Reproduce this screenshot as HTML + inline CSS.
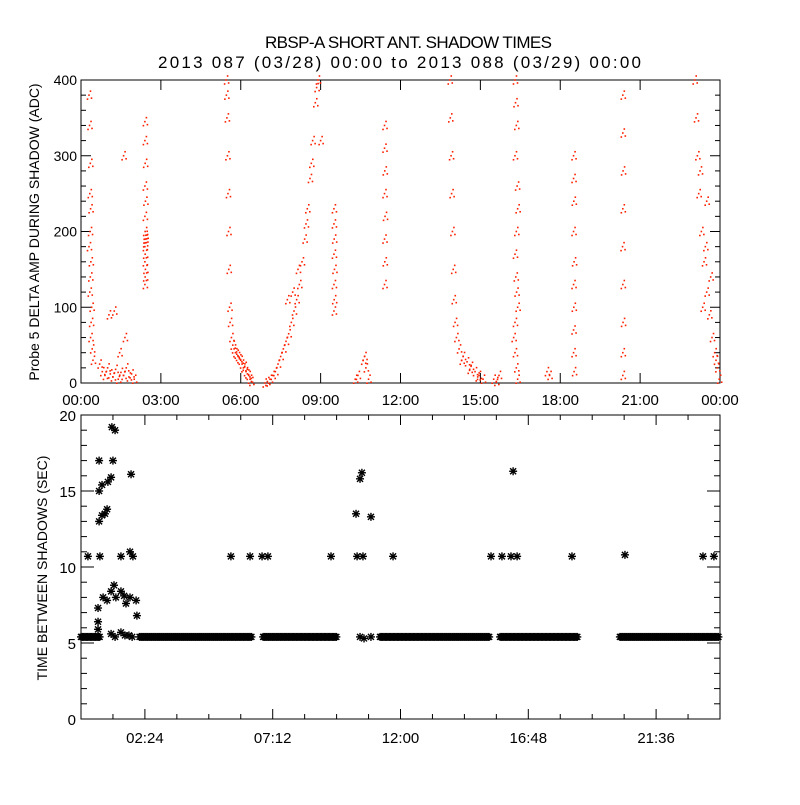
<!DOCTYPE html>
<html><head><meta charset="utf-8"><style>
body{margin:0;background:#fff;}
svg text{font-family:"Liberation Sans",sans-serif;fill:#000;}
</style></head><body>
<svg id="c" width="800" height="800" xmlns="http://www.w3.org/2000/svg">
<rect width="800" height="800" fill="#fff"/>
<text x="265" y="48" font-size="17" textLength="287" lengthAdjust="spacing">RBSP-A SHORT ANT. SHADOW TIMES</text>
<text x="158" y="68" font-size="17" textLength="483" lengthAdjust="spacing">2013 087 (03/28) 00:00 to 2013 088 (03/29) 00:00</text>
<g id="topPanel"></g>
<g id="botPanel"></g>
<text transform="translate(39,232) rotate(-90)" font-size="14" text-anchor="middle">Probe 5 DELTA AMP DURING SHADOW (ADC)</text>
<text transform="translate(47,568) rotate(-90)" font-size="14" text-anchor="middle">TIME BETWEEN SHADOWS (SEC)</text>
</svg>
<script>
// ---- data ----
const topTickLabels = ["00:00","03:00","06:00","09:00","12:00","15:00","18:00","21:00","00:00"];
const topYTicks = [0,100,200,300,400];
const botTickLabels = ["02:24","07:12","12:00","16:48","21:36"];
const botTickHours = [2.4,7.2,12.0,16.8,21.6];
const botYTicks = [0,5,10,15,20];
// red scatter: hours, values
const ampHours = [0.3,0.32,0.35,0.33,0.36,0.34,0.3,0.37,0.35,0.33,0.4,0.38,0.36,0.42,0.45,
0.8,0.9,1.0,1.1,1.2,1.3,1.4,1.5,1.6,1.7,1.8,1.9,2.0,1.05,1.25,1.45,1.65,0.7,1.6,
2.4,2.4,2.41,2.4,2.42,2.4,2.41,2.43,2.42,2.41,2.4,2.41,2.4,2.42,2.41,2.4,
5.45,5.46,5.48,5.5,5.52,5.54,5.55,5.58,5.6,5.65,5.7,5.8,5.9,6.0,6.05,6.1,6.2,6.3,6.35,6.4,5.75,5.85,5.95,6.15,6.25,
6.9,7.0,7.1,7.2,7.3,7.4,7.5,7.6,7.7,7.8,7.9,8.0,8.1,8.2,8.3,8.4,8.5,8.6,8.7,8.8,8.9,7.75,7.95,8.15,8.45,8.65,8.85,9.0,
9.5,9.5,9.51,9.5,9.52,9.5,9.51,9.5,
10.3,10.4,10.6,10.7,10.8,10.65,
11.4,11.4,11.41,11.4,11.42,11.4,11.41,11.4,
13.85,13.87,13.9,13.92,13.95,13.98,14.0,14.05,14.1,14.2,14.35,14.5,14.65,14.8,14.95,15.1,14.3,14.6,14.9,15.5,15.6,15.7,
16.3,16.32,16.35,16.3,16.38,16.4,16.35,16.3,16.33,16.36,16.4,16.3,16.25,16.3,16.35,16.4,
17.5,17.6,
18.5,18.5,18.51,18.5,18.52,18.5,18.51,18.5,18.5,18.52,
20.35,20.35,20.36,20.35,20.34,20.35,20.36,20.35,20.35,
23.05,23.1,23.15,23.2,23.3,23.4,23.5,23.6,23.7,23.8,23.9,23.97,23.25,23.45,23.65,23.85,23.5,23.35];
const ampValues = [380,340,290,250,230,200,180,160,140,120,100,80,60,45,30,
15,10,20,12,8,18,5,14,10,20,8,12,5,90,95,40,60,25,300,
345,320,290,260,240,220,200,195,190,185,180,170,160,150,140,130,
400,380,350,300,250,200,150,100,80,60,50,40,35,30,25,20,15,10,5,2,45,38,32,22,12,
0,2,5,10,15,25,35,45,55,65,80,95,110,130,160,190,230,270,320,370,400,110,120,150,210,290,390,320,
230,210,190,170,150,130,110,95,
5,10,30,20,5,35,
340,310,280,250,220,190,160,130,
400,350,300,250,200,150,110,80,60,45,35,28,22,15,10,5,30,18,8,5,2,10,
400,370,340,300,260,230,200,170,140,120,100,80,60,40,20,5,
15,10,
300,270,240,200,160,130,100,70,40,15,
380,330,280,230,180,130,80,40,10,
400,350,300,250,200,160,120,90,60,40,20,5,280,180,140,30,240,100];
// asterisks: outliers
const gapHours = [0.26,0.71,0.68,0.68,0.68,0.79,0.9,0.98,0.79,1.01,1.13,1.16,1.28,1.2,1.88,0.64,0.64,0.64,0.83,0.98,1.13,1.24,1.31,1.5,1.62,1.69,1.84,2.07,2.1,1.13,1.28,1.5,1.65,1.8,1.92,1.5,1.84,1.95,5.63,6.35,6.8,7.02,9.39,10.33,10.37,10.48,10.55,10.59,10.48,10.63,10.89,10.89,11.72,15.4,15.81,16.15,16.23,16.38,18.44,20.43,23.36,23.77];
const gapValues = [10.7,10.7,17,15,13,13.4,13.5,13.8,15.4,15.6,15.9,19.2,19,17,16.1,7.3,6.4,5.9,8,7.8,8.4,8.8,8,8.4,8.1,7.6,8,7.8,6.8,5.6,5.4,5.7,5.5,5.5,5.4,10.7,11,10.7,10.7,10.7,10.7,10.7,10.7,13.5,10.7,15.8,16.2,10.7,5.4,5.3,13.3,5.4,10.7,10.7,10.7,10.7,16.3,10.7,10.7,10.8,10.7,10.7];
// baseline runs at ~5.4 s
const runStart = [0.0,2.2,6.84,11.23,15.74,20.24];
const runEnd = [0.7,6.42,9.62,15.36,18.67,23.95];
const runValue = [5.4,5.4,5.4,5.4,5.4,5.4];

const NS="http://www.w3.org/2000/svg";
const X0=81,X1=720;
const xs=h=>X0+(X1-X0)*h/24;
const T0=80,T1=383, ys1=v=>T1-(T1-T0)*v/400;
const B0=415,B1=719, ys2=v=>B1-(B1-B0)*v/20;
function el(tag,attrs,parent){const e=document.createElementNS(NS,tag);for(const k in attrs)e.setAttribute(k,attrs[k]);parent.appendChild(e);return e;}
const topG=document.getElementById('topPanel'), botG=document.getElementById('botPanel');

let f=el('rect',{x:X0,y:T0,width:X1-X0,height:T1-T0,fill:'none',stroke:'#000','stroke-width':1},topG);


for(let i=0;i<=20;i++){const y=ys1(i*20);const L=(i%5==0)?10:5;
 el('line',{x1:X0,x2:X0+L,y1:y,y2:y,stroke:'#000'},topG);el('line',{x1:X1,x2:X1-L,y1:y,y2:y,stroke:'#000'},topG);}
topYTicks.forEach(v=>{const t=el('text',{x:X0-4,y:ys1(v)+5,'font-size':14,'text-anchor':'end'},topG);t.textContent=v;
 
 });
topTickLabels.forEach((s,i)=>{const x=xs(i*3);
 el('line',{x1:x,x2:x,y1:T1,y2:T1-10,stroke:'#000'},topG);el('line',{x1:x,x2:x,y1:T0,y2:T0+10,stroke:'#000'},topG);
 const t=el('text',{x:x,y:405,'font-size':15,'text-anchor':'middle'},topG);t.textContent=s;
 
 });
const offs=[[0,0],[1.5,-4],[-1.5,4],[2.5,3]];
ampHours.forEach((h,i)=>{offs.forEach(o=>{const r=el('rect',{x:xs(h)+o[0]-0.8,y:ys1(ampValues[i])+o[1]-0.8,width:1.6,height:1.6,fill:'#ff2000'},topG);
 
 });});

f=el('rect',{x:X0,y:B0,width:X1-X0,height:B1-B0,fill:'none',stroke:'#000'},botG);


for(let i=0;i<=20;i++){const y=ys2(i);const L=(i%5==0)?13:6;
 el('line',{x1:X0,x2:X0+L,y1:y,y2:y,stroke:'#000'},botG);el('line',{x1:X1,x2:X1-L,y1:y,y2:y,stroke:'#000'},botG);}
botYTicks.forEach(v=>{const t=el('text',{x:X0-5,y:ys2(v)+6,'font-size':15,'text-anchor':'end'},botG);t.textContent=v;
 
 });
for(let i=1;i<20;i++){const x=xs(i*1.2);const L=(i%4==2)?10:5;
 el('line',{x1:x,x2:x,y1:B1,y2:B1-L,stroke:'#000'},botG);el('line',{x1:x,x2:x,y1:B0,y2:B0+L,stroke:'#000'},botG);}
botTickLabels.forEach((s,i)=>{const t=el('text',{x:xs(botTickHours[i]),y:743,'font-size':15,'text-anchor':'middle'},botG);t.textContent=s;
 
 });
function star(x,y){const g=el('g',{stroke:'#000','stroke-width':1.4},botG);
 
 
 el('line',{x1:x-4,x2:x+4,y1:y,y2:y},g);el('line',{x1:x,x2:x,y1:y-4,y2:y+4},g);
 el('line',{x1:x-3,x2:x+3,y1:y-3,y2:y+3},g);el('line',{x1:x-3,x2:x+3,y1:y+3,y2:y-3},g);}
runStart.forEach((s,i)=>{for(let h=s;h<=runEnd[i]+1e-9;h+=0.05)star(xs(h),ys2(runValue[i]));});
gapHours.forEach((h,i)=>star(xs(h),ys2(gapValues[i])));
</script>
</body></html>
